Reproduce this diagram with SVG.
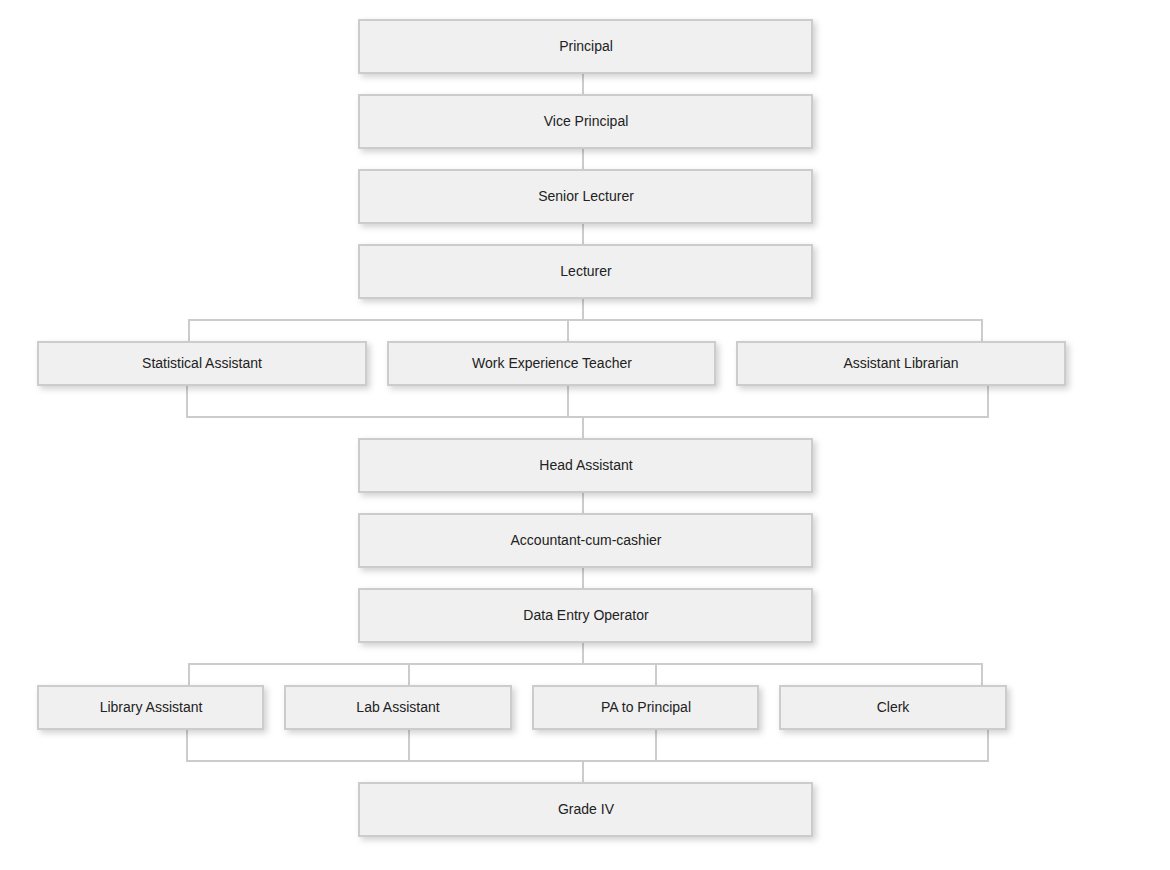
<svg xmlns="http://www.w3.org/2000/svg" width="1170" height="870" viewBox="0 0 1170 870">
<style>
.box{fill:#f0f0f0;stroke:#cccccc;stroke-width:2;filter:url(#sh)}
.lbl{font-family:"Liberation Sans",Arial,sans-serif;font-size:14px;fill:#222;text-anchor:middle;dominant-baseline:central}
.ln{stroke:#cccccc;stroke-width:2;fill:none}
</style>
<defs>
<filter id="sh" x="-10%" y="-30%" width="120%" height="170%">
<feDropShadow dx="3" dy="3" stdDeviation="3" flood-color="#000" flood-opacity="0.18"/>
</filter>
</defs>
<rect width="1170" height="870" fill="#fff"/>
<g id="connectors">
<path class="ln" d="M583 73V95M583 148V170M583 223V245M583 298V320"/>
<path class="ln" d="M189 342V320H982V342M568 320V342"/>
<path class="ln" d="M187 385V417H988V385M568 385V417M583 417V439"/>
<path class="ln" d="M583 492V514M583 567V589M583 642V664"/>
<path class="ln" d="M189 686V664H982V686M409 664V686M656 664V686"/>
<path class="ln" d="M187 729V761H988V729M409 729V761M656 729V761M583 761V783"/>
</g>
<g id="principal"><rect class="box" x="359" y="20" width="453" height="53"/><text class="lbl" x="586" y="46">Principal</text></g>
<g id="vice-principal"><rect class="box" x="359" y="95" width="453" height="53"/><text class="lbl" x="586" y="121">Vice Principal</text></g>
<g id="senior-lecturer"><rect class="box" x="359" y="170" width="453" height="53"/><text class="lbl" x="586" y="196">Senior Lecturer</text></g>
<g id="lecturer"><rect class="box" x="359" y="245" width="453" height="53"/><text class="lbl" x="586" y="271">Lecturer</text></g>
<g id="statistical-assistant"><rect class="box" x="38" y="342" width="328" height="43"/><text class="lbl" x="202" y="363">Statistical Assistant</text></g>
<g id="work-experience-teacher"><rect class="box" x="388" y="342" width="327" height="43"/><text class="lbl" x="552" y="363">Work Experience Teacher</text></g>
<g id="assistant-librarian"><rect class="box" x="737" y="342" width="328" height="43"/><text class="lbl" x="901" y="363">Assistant Librarian</text></g>
<g id="head-assistant"><rect class="box" x="359" y="439" width="453" height="53"/><text class="lbl" x="586" y="465">Head Assistant</text></g>
<g id="accountant"><rect class="box" x="359" y="514" width="453" height="53"/><text class="lbl" x="586" y="540">Accountant-cum-cashier</text></g>
<g id="data-entry-operator"><rect class="box" x="359" y="589" width="453" height="53"/><text class="lbl" x="586" y="615">Data Entry Operator</text></g>
<g id="library-assistant"><rect class="box" x="38" y="686" width="225" height="43"/><text class="lbl" x="151" y="707">Library Assistant</text></g>
<g id="lab-assistant"><rect class="box" x="285" y="686" width="226" height="43"/><text class="lbl" x="398" y="707">Lab Assistant</text></g>
<g id="pa-to-principal"><rect class="box" x="533" y="686" width="225" height="43"/><text class="lbl" x="646" y="707">PA to Principal</text></g>
<g id="clerk"><rect class="box" x="780" y="686" width="226" height="43"/><text class="lbl" x="893" y="707">Clerk</text></g>
<g id="grade-iv"><rect class="box" x="359" y="783" width="453" height="53"/><text class="lbl" x="586" y="809">Grade IV</text></g>
</svg>
